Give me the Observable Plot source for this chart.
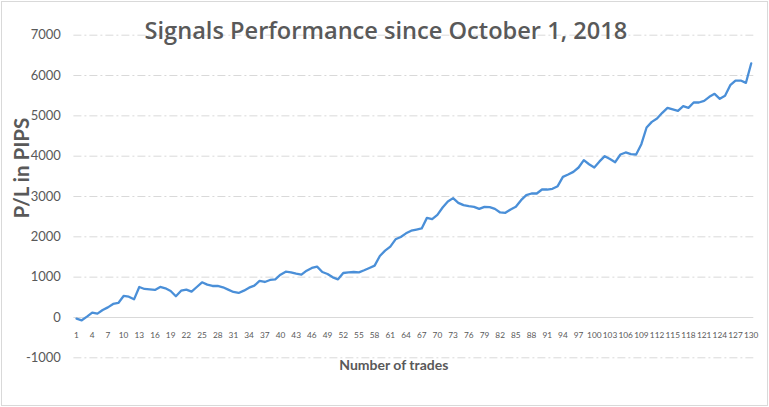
<!DOCTYPE html>
<html>
<head>
<meta charset="utf-8">
<script src="https://cdn.jsdelivr.net/npm/d3@7"></script>
<script src="https://cdn.jsdelivr.net/npm/@observablehq/plot@0.6"></script>
<style>
  html, body { margin: 0; padding: 0; background: #fff; }
  #chart svg { display: block; outline: 1px solid #d9d9d9; outline-offset: -2px; }
</style>
</head>
<body>
<div id="chart"></div>
<script>
const title = "Signals Performance since October 1, 2018";
const yLabel = "P/L in PIPS";
const xLabel = "Number of trades";

// cumulative P/L in pips, trades 1..130
const pl = [
  -30, -70, 20, 120, 95, 185, 250, 335, 360, 533,
  516, 450, 756, 707, 698, 682, 756, 723, 657, 525,
  665, 690, 640, 756, 872, 814, 781, 781, 748, 690,
  632, 608, 665, 740, 790, 905, 880, 930, 946, 1060,
  1136, 1120, 1087, 1062, 1161, 1228, 1261, 1128, 1079, 996,
  946, 1103, 1120, 1128, 1120, 1170, 1228, 1286, 1526, 1658,
  1757, 1938, 1996, 2087, 2153, 2180, 2207, 2470, 2440, 2545,
  2728, 2877, 2959, 2843, 2785, 2760, 2744, 2693, 2744, 2736,
  2693, 2604, 2596, 2678, 2744, 2909, 3033, 3074, 3074, 3173,
  3173, 3190, 3256, 3487, 3545, 3611, 3719, 3901, 3800, 3720,
  3870, 4000, 3930, 3851, 4042, 4092, 4050, 4042, 4298, 4711,
  4851, 4934, 5075, 5199, 5160, 5124, 5240, 5199, 5331, 5331,
  5372, 5471, 5546, 5422, 5496, 5761, 5876, 5876, 5819, 6300
];
const trades = pl.map((_, i) => i + 1);
const yTicks = [-1000, 0, 1000, 2000, 3000, 4000, 5000, 6000, 7000];
const xTicks = d3.range(1, 131, 3);

const data = trades.map((t, i) => ({trade: t, value: pl[i]}));

const font = "Lato, 'Open Sans', sans-serif";
const textColor = "#595959";

const chart = Plot.plot({
  width: 769,
  height: 407,
  marginLeft: 73.4,
  marginRight: 15.7,
  marginTop: 34.7,
  marginBottom: 49.7,
  style: {fontFamily: font, background: "#fff", color: textColor, overflow: "visible"},
  x: {domain: [0.5, 130.5], axis: null},
  y: {domain: [-1000, 7000], axis: null},
  marks: [
    Plot.ruleY(yTicks.filter(d => d !== 0), {stroke: "#d9d9d9", strokeWidth: 1, strokeDasharray: "8,3,2,3"}),
    Plot.ruleY([0], {stroke: "#d9d9d9", strokeWidth: 1.2}),
    Plot.axisY(yTicks, {tickSize: 0, tickPadding: 13, label: null, fontSize: 13, fill: textColor, tickFormat: d => String(d)}),
    Plot.text(xTicks, {x: d => d, y: 0, dy: 18, text: d => String(d), fontSize: 8.3, fill: textColor}),
    Plot.line(data, {x: "trade", y: "value", stroke: "#4a8fd8", strokeWidth: 2.3, strokeLinejoin: "round"}),
    Plot.text([title], {frameAnchor: "top", dx: -28, dy: -13, fontSize: 23.6, fontWeight: 600, fontFamily: "'Open Sans', sans-serif", fill: textColor}),
    Plot.text([yLabel], {frameAnchor: "left", dx: -51, dy: 22, rotate: -90, fontSize: 20.5, fontWeight: "bold", fill: textColor}),
    Plot.text([xLabel], {frameAnchor: "bottom", dx: -20, dy: 12, fontSize: 14, fontWeight: "bold", fill: textColor})
  ]
});
document.getElementById("chart").appendChild(chart);
</script>
</body>
</html>
